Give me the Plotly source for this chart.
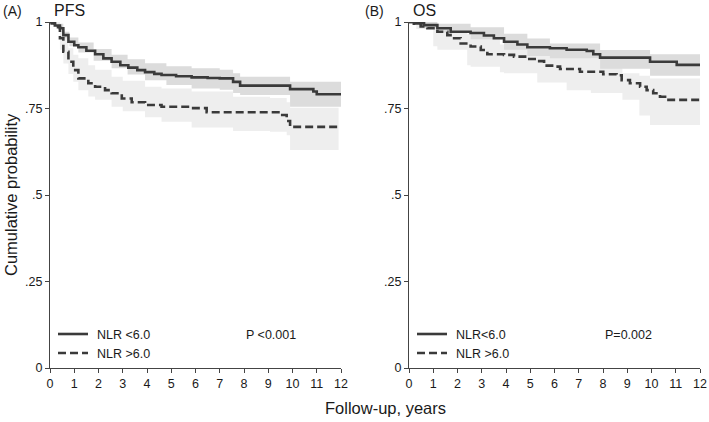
import plotly.graph_objects as go

W, H = 709, 422

# ---------------- data ----------------
# PFS, NLR <6.0
pfs_lo_t = [0, 0.07, 0.2, 0.41, 0.55, 0.76, 1.0, 1.17, 1.5, 1.86, 2.2, 2.54, 2.9, 3.23, 3.6,
            3.92, 4.3, 4.6, 5.2, 5.84, 6.5, 7.0, 7.55, 7.84, 9.9, 10.86, 11.0, 12]
pfs_lo_s = [1.0, 0.996, 0.99, 0.982, 0.962, 0.943, 0.933, 0.927, 0.917, 0.907, 0.895, 0.885, 0.875,
            0.868, 0.861, 0.855, 0.85, 0.847, 0.843, 0.840, 0.838, 0.837, 0.827, 0.816, 0.806, 0.799,
            0.791, 0.791]
pfs_lo_ci_t = [0, 0.3, 0.55, 0.8, 1.17, 1.8, 2.54, 3.2, 3.92, 4.8, 5.84, 7.0, 7.55, 7.84, 9.9, 12]
pfs_lo_ci_up = [1.0, 0.995, 0.972, 0.955, 0.941, 0.922, 0.905, 0.892, 0.881, 0.872, 0.866, 0.862,
                0.852, 0.842, 0.827, 0.827]
pfs_lo_ci_dn = [1.0, 0.985, 0.953, 0.93, 0.912, 0.888, 0.866, 0.848, 0.832, 0.818, 0.808, 0.804,
                0.795, 0.789, 0.755, 0.755]

# PFS, NLR >6.0
pfs_hi_t = [0, 0.2, 0.33, 0.41, 0.55, 0.76, 0.96, 1.17, 1.58, 1.86, 2.27, 2.54, 2.96, 3.37, 3.92,
            4.6, 5.84, 6.46, 9.07, 9.42, 9.76, 9.9, 11.9]
pfs_hi_s = [1.0, 0.995, 0.985, 0.953, 0.914, 0.885, 0.861, 0.837, 0.823, 0.813, 0.803, 0.794, 0.779,
            0.768, 0.760, 0.755, 0.751, 0.739, 0.739, 0.731, 0.714, 0.697, 0.697]
pfs_hi_ci_t = [0, 0.2, 0.41, 0.55, 0.76, 0.96, 1.17, 1.58, 1.86, 2.54, 3.0, 3.92, 4.6, 5.84, 7.55,
               9.07, 9.76, 9.9, 11.9]
pfs_hi_ci_up = [1.0, 1.0, 0.98, 0.955, 0.924, 0.905, 0.895, 0.875, 0.862, 0.842, 0.83, 0.813, 0.808,
                0.799, 0.784, 0.78, 0.768, 0.752, 0.752]
pfs_hi_ci_dn = [1.0, 0.985, 0.92, 0.88, 0.85, 0.827, 0.803, 0.785, 0.775, 0.755, 0.742, 0.725, 0.712,
                0.695, 0.685, 0.683, 0.673, 0.630, 0.630]

# OS, NLR <6.0
os_lo_t = [0, 0.3, 0.62, 1.17, 1.72, 2.54, 3.09, 3.5, 3.92, 4.47, 4.88, 5.81, 6.5, 7.33, 7.6, 7.88,
           9.94, 11.04, 12]
os_lo_s = [1.0, 0.996, 0.991, 0.982, 0.972, 0.968, 0.961, 0.953, 0.943, 0.935, 0.927, 0.924, 0.92,
           0.916, 0.907, 0.897, 0.885, 0.876, 0.876]
os_lo_ci_t = [0, 0.62, 1.17, 2.54, 3.92, 4.88, 5.81, 7.88, 9.94, 12]
os_lo_ci_up = [1.0, 1.0, 0.995, 0.985, 0.966, 0.952, 0.938, 0.919, 0.907, 0.907]
os_lo_ci_dn = [1.0, 0.982, 0.97, 0.95, 0.92, 0.902, 0.895, 0.865, 0.845, 0.838]

# OS, NLR >6.0
os_hi_t = [0, 0.2, 0.48, 0.76, 1.17, 1.58, 1.86, 2.13, 2.54, 2.96, 3.23, 3.92, 4.33, 4.88, 5.29,
           5.57, 5.98, 6.23, 7.05, 8.01, 8.56, 8.77, 9.11, 9.53, 9.8, 10.07, 10.35, 10.56, 12]
os_hi_s = [1.0, 0.995, 0.987, 0.982, 0.972, 0.962, 0.953, 0.938, 0.929, 0.919, 0.907, 0.905, 0.900,
           0.893, 0.887, 0.874, 0.871, 0.864, 0.856, 0.849, 0.846, 0.832, 0.823, 0.813, 0.803, 0.794,
           0.784, 0.775, 0.775]
os_hi_ci_t = [0, 0.3, 1.0, 1.17, 2.4, 2.54, 3.75, 3.92, 5.29, 6.5, 7.5, 8.8, 9.5, 9.94, 12]
os_hi_ci_up = [1.0, 1.0, 0.99, 0.985, 0.965, 0.958, 0.935, 0.929, 0.914, 0.905, 0.895, 0.852, 0.845,
               0.837, 0.837]
os_hi_ci_dn = [1.0, 0.98, 0.93, 0.92, 0.875, 0.871, 0.855, 0.852, 0.825, 0.803, 0.795, 0.775, 0.73,
               0.702, 0.702]

x_ticks = list(range(0, 13))
y_tickvals = [0, 0.25, 0.5, 0.75, 1]
y_ticktext = ["0", ".25", ".5", ".75", "1"]

panel_tags = ["(A)", "(B)"]
panel_titles = ["PFS", "OS"]
legend_labels = [["NLR <6.0", "NLR >6.0"], ["NLR<6.0", "NLR >6.0"]]
p_values = ["P <0.001", "P=0.002"]

# ---------------- style ----------------
LINE = "#3a3a3a"
DARK_BAND = "#dcdcdc"
LIGHT_BAND = "#eeeeee"
AX = "#444444"
FONT = "Liberation Sans, Arial, sans-serif"
TXT = "#1a1a1a"


def px(x):
    return x / W


def py(y):
    return 1 - y / H


fig = go.Figure()

panels = [
    dict(xa="x", ya="y",
         lo=(pfs_lo_t, pfs_lo_s, pfs_lo_ci_t, pfs_lo_ci_up, pfs_lo_ci_dn),
         hi=(pfs_hi_t, pfs_hi_s, pfs_hi_ci_t, pfs_hi_ci_up, pfs_hi_ci_dn)),
    dict(xa="x2", ya="y2",
         lo=(os_lo_t, os_lo_s, os_lo_ci_t, os_lo_ci_up, os_lo_ci_dn),
         hi=(os_hi_t, os_hi_s, os_hi_ci_t, os_hi_ci_up, os_hi_ci_dn)),
]


def band(t, up, dn, color, xa, ya):
    fig.add_trace(go.Scatter(x=t, y=dn, mode="lines", line=dict(width=0, shape="hv"),
                             xaxis=xa, yaxis=ya, showlegend=False, hoverinfo="skip"))
    fig.add_trace(go.Scatter(x=t, y=up, mode="lines", line=dict(width=0, shape="hv"),
                             fill="tonexty", fillcolor=color,
                             xaxis=xa, yaxis=ya, showlegend=False, hoverinfo="skip"))


for p in panels:
    lt, ls, lct, lcu, lcd = p["lo"]
    ht, hs, hct, hcu, hcd = p["hi"]
    band(hct, hcu, hcd, LIGHT_BAND, p["xa"], p["ya"])
    band(lct, lcu, lcd, DARK_BAND, p["xa"], p["ya"])
    fig.add_trace(go.Scatter(x=ht, y=hs, mode="lines",
                             line=dict(color=LINE, width=2.6, shape="hv", dash="8px,4px"),
                             xaxis=p["xa"], yaxis=p["ya"], showlegend=False))
    fig.add_trace(go.Scatter(x=lt, y=ls, mode="lines",
                             line=dict(color=LINE, width=2.6, shape="hv"),
                             xaxis=p["xa"], yaxis=p["ya"], showlegend=False))

y_dom = [py(368), py(22)]
xdoms = [[px(50), px(341)], [px(409), px(700)]]

axis_common = dict(showline=True, linecolor=AX, linewidth=1, ticks="outside", ticklen=4,
                   tickcolor=AX, showgrid=False, zeroline=False, automargin=False,
                   tickfont=dict(family=FONT, size=12.5, color=TXT))

fig.update_layout(
    xaxis=dict(domain=xdoms[0], range=[0, 12], tickvals=x_ticks, anchor="y", **axis_common),
    yaxis=dict(domain=y_dom, range=[0, 1], tickvals=y_tickvals, ticktext=y_ticktext,
               anchor="x", **axis_common),
    xaxis2=dict(domain=xdoms[1], range=[0, 12], tickvals=x_ticks, anchor="y2", **axis_common),
    yaxis2=dict(domain=y_dom, range=[0, 1], tickvals=y_tickvals, ticktext=y_ticktext,
                anchor="x2", **axis_common),
)

ann = []
shapes = []
tag_x = [1, 363]
title_x = [52, 411]
leg_x0 = [58, 417]
pval_x = [244, 603]
for i in range(2):
    ann.append(dict(text=panel_tags[i], x=px(tag_x[i]), y=py(11), xref="paper", yref="paper",
                    xanchor="left", yanchor="middle", showarrow=False,
                    font=dict(family=FONT, size=14, color=TXT)))
    ann.append(dict(text=panel_titles[i], x=px(title_x[i]), y=py(11), xref="paper", yref="paper",
                    xanchor="left", yanchor="middle", showarrow=False,
                    font=dict(family=FONT, size=16, color=TXT)))
    for j, (yy, dash) in enumerate([(334, "solid"), (353, "dash")]):
        shapes.append(dict(type="line", xref="paper", yref="paper",
                           x0=px(leg_x0[i]), x1=px(leg_x0[i] + 30), y0=py(yy), y1=py(yy),
                           line=dict(color=LINE, width=2.6,
                                     dash="solid" if dash == "solid" else "8px,4px")))
        ann.append(dict(text=legend_labels[i][j], x=px(leg_x0[i] + 37), y=py(yy + 1),
                        xref="paper", yref="paper", xanchor="left", yanchor="middle",
                        showarrow=False, font=dict(family=FONT, size=12.5, color=TXT)))
    ann.append(dict(text=p_values[i], x=px(pval_x[i]), y=py(335), xref="paper", yref="paper",
                    xanchor="left", yanchor="middle", showarrow=False,
                    font=dict(family=FONT, size=12.5, color=TXT)))

ann.append(dict(text="Cumulative probability", x=px(11), y=py(195), xref="paper", yref="paper",
                xanchor="center", yanchor="middle", textangle=-90, showarrow=False,
                font=dict(family=FONT, size=16.5, color=TXT)))
ann.append(dict(text="Follow-up, years", x=px(385), y=py(408), xref="paper", yref="paper",
                xanchor="center", yanchor="middle", showarrow=False,
                font=dict(family=FONT, size=16.5, color=TXT)))

fig.update_layout(width=W, height=H, margin=dict(l=0, r=0, t=0, b=0, autoexpand=False),
                  paper_bgcolor="white", plot_bgcolor="white",
                  annotations=ann, shapes=shapes, showlegend=False)

fig.write_html("out.html", config={"displayModeBar": False},
               post_script="document.body.style.margin='0';document.body.style.padding='0';"
                           "document.body.style.overflow='hidden';")
